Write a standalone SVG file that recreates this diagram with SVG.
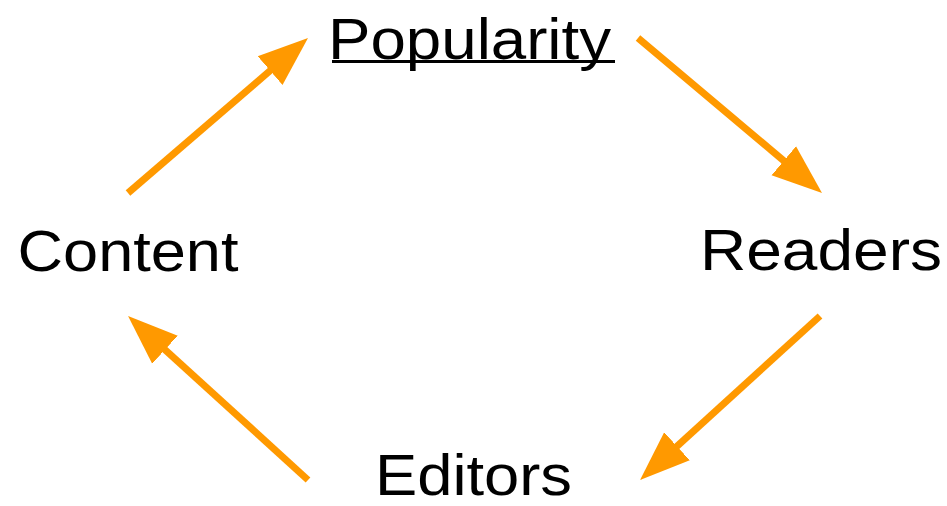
<svg xmlns="http://www.w3.org/2000/svg" width="947" height="506" viewBox="0 0 947 506">
<style>
.lbl{font-family:"Liberation Sans",Arial,sans-serif;font-size:58px;fill:#000}
.arr{stroke:#FF9900;stroke-width:7;fill:none;marker-end:url(#ah)}
</style>
<defs>
<marker id="ah" markerUnits="userSpaceOnUse" markerWidth="52" markerHeight="40" refX="5" refY="19" orient="auto" viewBox="0 0 52 38">
<path d="M0,0 L50,19 L0,38 Z" fill="#FF9900"/>
</marker>
</defs>
<rect width="947" height="506" fill="#fff"/>
<g id="popularity">
<text class="lbl" x="328" y="58.5" textLength="283" lengthAdjust="spacingAndGlyphs">Popularity</text>
<rect x="332" y="60" width="283" height="3" fill="#000"/>
</g>
<g id="readers"><text class="lbl" x="700" y="270" textLength="242" lengthAdjust="spacingAndGlyphs">Readers</text></g>
<g id="editors"><text class="lbl" x="375" y="495" textLength="197" lengthAdjust="spacingAndGlyphs">Editors</text></g>
<g id="content"><text class="lbl" x="17.5" y="271" textLength="221" lengthAdjust="spacingAndGlyphs">Content</text></g>
<g id="connectors">
<line class="arr" x1="128" y1="193" x2="273.9" y2="67.4"/>
<line class="arr" x1="638" y1="38" x2="787.6" y2="164"/>
<line class="arr" x1="820" y1="316" x2="673.3" y2="449.7"/>
<line class="arr" x1="308" y1="480" x2="161.3" y2="346.3"/>
</g>
</svg>
